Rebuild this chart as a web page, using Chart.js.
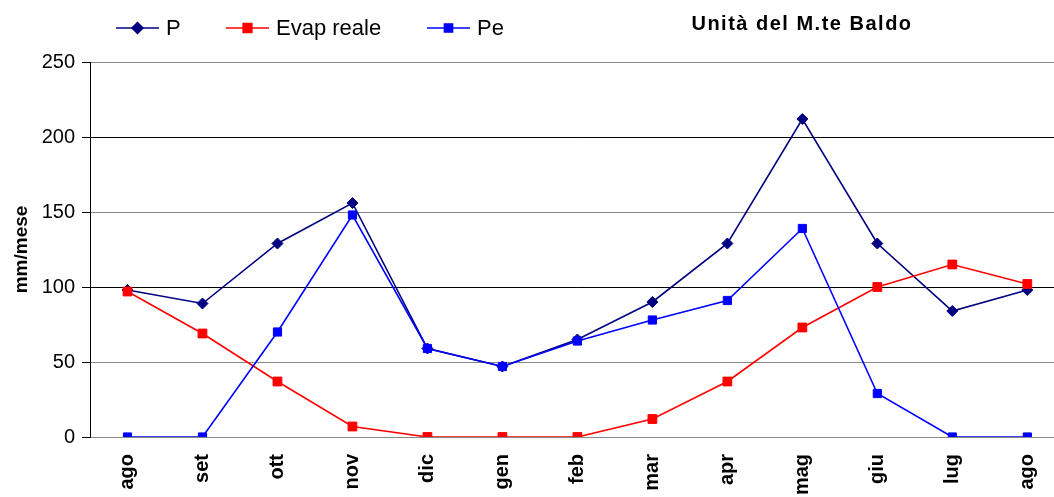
<!DOCTYPE html>
<html>
<head>
<meta charset="utf-8">
<script src="https://cdn.jsdelivr.net/npm/chart.js@4"></script>
<style>
  html, body { margin: 0; padding: 0; background: #fff; overflow: hidden; }
  #chart { display: block; }
</style>
</head>
<body>
<canvas id="chart" width="1072" height="497"></canvas>
<script>
const months = ["ago", "set", "ott", "nov", "dic", "gen", "feb", "mar", "apr", "mag", "giu", "lug", "ago"];
const pValues = [98, 89, 129, 156, 59, 47, 65, 90, 129, 212, 129, 84, 98];
const evapValues = [97, 69, 37, 7, 0, 0, 0, 12, 37, 73, 100, 115, 102];
const peValues = [0, 0, 70, 148, 59, 47, 64, 78, 91, 139, 29, 0, 0];
const yTicks = [0, 50, 100, 150, 200, 250];

const FONT = "Liberation Sans, Arial, sans-serif";

// legend with line + marker, and the title on the right
const headerPlugin = {
    id: "header",
    afterDraw: function(chart) {
        const ctx = chart.ctx;
        ctx.save();
        const y = 28;
        chart.data.datasets.forEach(function(ds, i) {
            const x0 = [116, 226, 427][i];
            ctx.strokeStyle = ds.borderColor;
            ctx.lineWidth = 1.5;
            ctx.beginPath();
            ctx.moveTo(x0, y);
            ctx.lineTo(x0 + 43, y);
            ctx.stroke();
            ctx.fillStyle = ds.pointBackgroundColor;
            Chart.helpers.drawPoint(ctx, {
                pointStyle: ds.pointStyle,
                radius: ds.pointRadius,
                borderWidth: 1
            }, x0 + 21.5, y);
            ctx.fillStyle = "#000";
            ctx.font = "22px " + FONT;
            ctx.textBaseline = "middle";
            ctx.textAlign = "left";
            ctx.fillText(ds.label, x0 + 50, y + 1);
        });
        ctx.font = "bold 20px " + FONT;
        ctx.letterSpacing = "1.5px";
        ctx.textAlign = "center";
        ctx.textBaseline = "middle";
        ctx.fillStyle = "#000";
        ctx.fillText("Unità del M.te Baldo", 802, 24);
        ctx.restore();
    }
};

function line(label, data, color, style, radius, order) {
    return {
        label: label,
        data: data,
        borderColor: color,
        backgroundColor: color,
        pointBackgroundColor: color,
        pointBorderColor: color,
        pointStyle: style,
        pointRadius: radius,
        pointBorderWidth: 1,
        borderWidth: 1.6,
        tension: 0,
        order: order
    };
}

new Chart(document.getElementById("chart"), {
    type: "line",
    data: {
        labels: months,
        datasets: [
            line("P", pValues, "#000080", "rectRot", 5.5, 3),
            line("Evap reale", evapValues, "#FF0000", "rect", 6.2, 2),
            line("Pe", peValues, "#0000FF", "rect", 5.8, 1)
        ]
    },
    options: {
        responsive: false,
        animation: false,
        layout: { padding: { top: 62, left: 0, right: 0, bottom: 0 } },
        plugins: {
            legend: { display: false },
            tooltip: { enabled: false }
        },
        scales: {
            x: {
                offset: true,
                afterFit: function(scale) { scale.height = 60; },
                grid: { display: false },
                border: { display: false },
                ticks: {
                    autoSkip: false,
                    minRotation: 90,
                    maxRotation: 90,
                    padding: 9,
                    color: "#000",
                    font: { family: FONT, size: 20, weight: "bold" }
                }
            },
            y: {
                min: 0,
                max: 250,
                afterFit: function(scale) { scale.width = 90; },
                afterBuildTicks: function(scale) {
                    scale.ticks = yTicks.map(function(v) { return { value: v }; });
                },
                border: { display: true, color: "#000", width: 1 },
                grid: {
                    color: function(c) {
                        const v = c.tick ? c.tick.value : 0;
                        return (v === 100 || v === 200) ? "#000" : "#888";
                    },
                    lineWidth: 1,
                    tickLength: 8,
                    tickColor: "#000"
                },
                ticks: {
                    padding: 7,
                    color: "#000",
                    font: { family: FONT, size: 20 }
                },
                title: {
                    display: true,
                    text: "mm/mese",
                    color: "#000",
                    padding: { top: 10, bottom: 4 },
                    font: { family: FONT, size: 19, weight: "bold" }
                }
            }
        }
    },
    plugins: [headerPlugin]
});
</script>
</body>
</html>
